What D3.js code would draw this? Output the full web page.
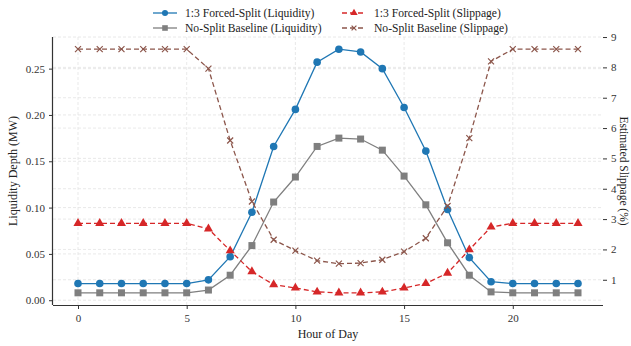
<!DOCTYPE html>
<html>
<head>
<meta charset="utf-8">
<script src="https://cdn.jsdelivr.net/npm/d3@7"></script>
<style>
  body { margin: 0; background: #fff; }
  svg { display: block; font-family: "Liberation Serif", "DejaVu Serif", serif; }
  .grid line { stroke: #e3e3e3; stroke-dasharray: 3,2; stroke-width: 0.8; }
  .axis path, .axis line { stroke: #333; }
  .axis text { fill: #333; font-size: 11px; font-family: "Liberation Serif", serif; }
</style>
</head>
<body>
<div id="chart"></div>
<script>
// hours of the day
const hours = d3.range(0, 24);

// liquidity depth (MW), left axis
const splitLiquidity = [0.018, 0.018, 0.018, 0.018, 0.018, 0.018, 0.022, 0.047, 0.095, 0.166, 0.206, 0.257,
  0.271, 0.268, 0.250, 0.208, 0.161, 0.098, 0.046, 0.020, 0.018, 0.018, 0.018, 0.018];
const baseLiquidity = [0.008, 0.008, 0.008, 0.008, 0.008, 0.008, 0.011, 0.027, 0.059, 0.106, 0.133, 0.166,
  0.175, 0.174, 0.162, 0.134, 0.103, 0.062, 0.027, 0.009, 0.008, 0.008, 0.008, 0.008];

// estimated slippage (%), right axis
const splitSlippage = [2.86, 2.86, 2.86, 2.86, 2.86, 2.86, 2.68, 1.96, 1.27, 0.84, 0.73, 0.60,
  0.57, 0.57, 0.60, 0.73, 0.88, 1.22, 1.99, 2.74, 2.86, 2.86, 2.86, 2.86];
const baseSlippage = [8.6, 8.6, 8.6, 8.6, 8.6, 8.6, 7.96, 5.59, 3.58, 2.32, 1.96, 1.63,
  1.53, 1.55, 1.66, 1.93, 2.37, 3.43, 5.67, 8.2, 8.6, 8.6, 8.6, 8.6];

const xTicks = [0, 5, 10, 15, 20];
const leftTicks = [0, 0.05, 0.10, 0.15, 0.20, 0.25];
const rightTicks = [1, 2, 3, 4, 5, 6, 7, 8, 9];

const series = [
  { name: '1:3 Forced-Split (Liquidity)', values: splitLiquidity, axis: 'left', color: '#1f77b4', marker: 'circle', dash: null },
  { name: 'No-Split Baseline (Liquidity)', values: baseLiquidity, axis: 'left', color: '#7f7f7f', marker: 'square', dash: null },
  { name: '1:3 Forced-Split (Slippage)', values: splitSlippage, axis: 'right', color: '#d62728', marker: 'triangle', dash: '5,3' },
  { name: 'No-Split Baseline (Slippage)', values: baseSlippage, axis: 'right', color: '#8c564b', marker: 'x', dash: '5,3' }
];

const W = 631, H = 346;
const margin = { top: 37, right: 28, bottom: 41, left: 53 };
const width = W - margin.left - margin.right;
const height = H - margin.top - margin.bottom;

function padded(lo, hi) {
  const p = (hi - lo) * 0.05;
  return [lo - p, hi + p];
}

const xScale = d3.scaleLinear().domain(padded(0, 23)).range([0, width]);
const yLeft = d3.scaleLinear()
  .domain(padded(d3.min(baseLiquidity), d3.max(splitLiquidity))).range([height, 0]);
const yRight = d3.scaleLinear()
  .domain(padded(d3.min(splitSlippage), d3.max(baseSlippage))).range([height, 0]);

const svg = d3.select('#chart').append('svg')
  .attr('width', W).attr('height', H);
const g = svg.append('g')
  .attr('transform', 'translate(' + margin.left + ',' + margin.top + ')');

// grid
const grid = g.append('g').attr('class', 'grid');
grid.selectAll('.gx').data(xTicks).enter().append('line')
  .attr('x1', d => xScale(d)).attr('x2', d => xScale(d))
  .attr('y1', 0).attr('y2', height);
grid.selectAll('.gl').data(leftTicks).enter().append('line')
  .attr('x1', 0).attr('x2', width)
  .attr('y1', d => yLeft(d)).attr('y2', d => yLeft(d));
grid.selectAll('.gr').data(rightTicks).enter().append('line')
  .attr('x1', 0).attr('x2', width)
  .attr('y1', d => yRight(d)).attr('y2', d => yRight(d));

// axes
const xAxis = d3.axisBottom(xScale).tickValues(xTicks).tickSize(4).tickPadding(5).tickFormat(d3.format('d'));
g.append('g').attr('class', 'axis x')
  .attr('transform', 'translate(0,' + height + ')')
  .call(xAxis)
  .call(s => s.select('.domain').attr('d', 'M0,0.5H' + width).attr('stroke-width', 1.2));

const yAxisL = d3.axisLeft(yLeft).tickValues(leftTicks).tickSize(4).tickPadding(4).tickFormat(d3.format('.2f'));
g.append('g').attr('class', 'axis yl')
  .call(yAxisL)
  .call(s => s.select('.domain').attr('d', 'M-0.5,0V' + height).attr('stroke-width', 1.2));

const yAxisR = d3.axisRight(yRight).tickValues(rightTicks).tickSize(4).tickPadding(4).tickFormat(d3.format('d'));
g.append('g').attr('class', 'axis yr')
  .attr('transform', 'translate(' + width + ',0)')
  .call(yAxisR)
  .call(s => s.select('.domain').remove());

// axis titles
svg.append('text')
  .attr('x', margin.left + width / 2).attr('y', 338)
  .attr('text-anchor', 'middle').attr('font-size', 12).attr('fill', '#222')
  .text('Hour of Day');
svg.append('text')
  .attr('transform', 'translate(17,' + (margin.top + height / 2) + ') rotate(-90)')
  .attr('text-anchor', 'middle').attr('font-size', 12).attr('fill', '#222')
  .text('Liquidity Depth (MW)');
svg.append('text')
  .attr('transform', 'translate(620,' + (margin.top + height / 2) + ') rotate(90)')
  .attr('text-anchor', 'middle').attr('font-size', 11.5).attr('fill', '#222')
  .text('Estimated Slippage (%)');

// marker drawing
function drawMarker(sel, type, color, k) {
  k = k || 1;
  if (type === 'circle') {
    sel.append('circle').attr('r', 3.8 * k).attr('fill', color);
  } else if (type === 'square') {
    sel.append('rect').attr('x', -3.5 * k).attr('y', -3.5 * k).attr('width', 7 * k).attr('height', 7 * k).attr('fill', color);
  } else if (type === 'triangle') {
    sel.append('path').attr('d', d3.symbol().type(d3.symbolTriangle).size(36 * k * k)).attr('fill', color);
  } else {
    sel.append('path').attr('d', 'M-3,-3L3,3M-3,3L3,-3')
      .attr('transform', 'scale(' + k + ')')
      .attr('stroke', color).attr('stroke-width', 1.2 / k).attr('fill', 'none');
  }
}

series.forEach(s => {
  const yS = s.axis === 'left' ? yLeft : yRight;
  const line = d3.line().x((d, i) => xScale(hours[i])).y(d => yS(d));
  g.append('path')
    .datum(s.values)
    .attr('fill', 'none')
    .attr('stroke', s.color)
    .attr('stroke-width', 1.3)
    .attr('stroke-dasharray', s.dash)
    .attr('d', line);
  const pts = g.append('g').selectAll('g').data(s.values).enter().append('g')
    .attr('transform', (d, i) => 'translate(' + xScale(hours[i]) + ',' + yS(d) + ')');
  drawMarker(pts, s.marker, s.color);
});

// legend (two columns)
const legendPos = [[153, 13], [153, 28], [342, 13], [342, 28]];
const legend = svg.append('g');
series.forEach((s, i) => {
  const item = legend.append('g').attr('transform', 'translate(' + legendPos[i][0] + ',' + legendPos[i][1] + ')');
  item.append('line').attr('x1', 0).attr('x2', 24).attr('y1', 0).attr('y2', 0)
    .attr('stroke', s.color).attr('stroke-width', 1.3).attr('stroke-dasharray', s.dash);
  drawMarker(item.append('g').attr('transform', 'translate(12,0)'), s.marker, s.color, 0.8);
  item.append('text').attr('x', 32).attr('y', 4).attr('font-size', 11.6).attr('fill', '#222')
    .text(s.name);
});
</script>
</body>
</html>
